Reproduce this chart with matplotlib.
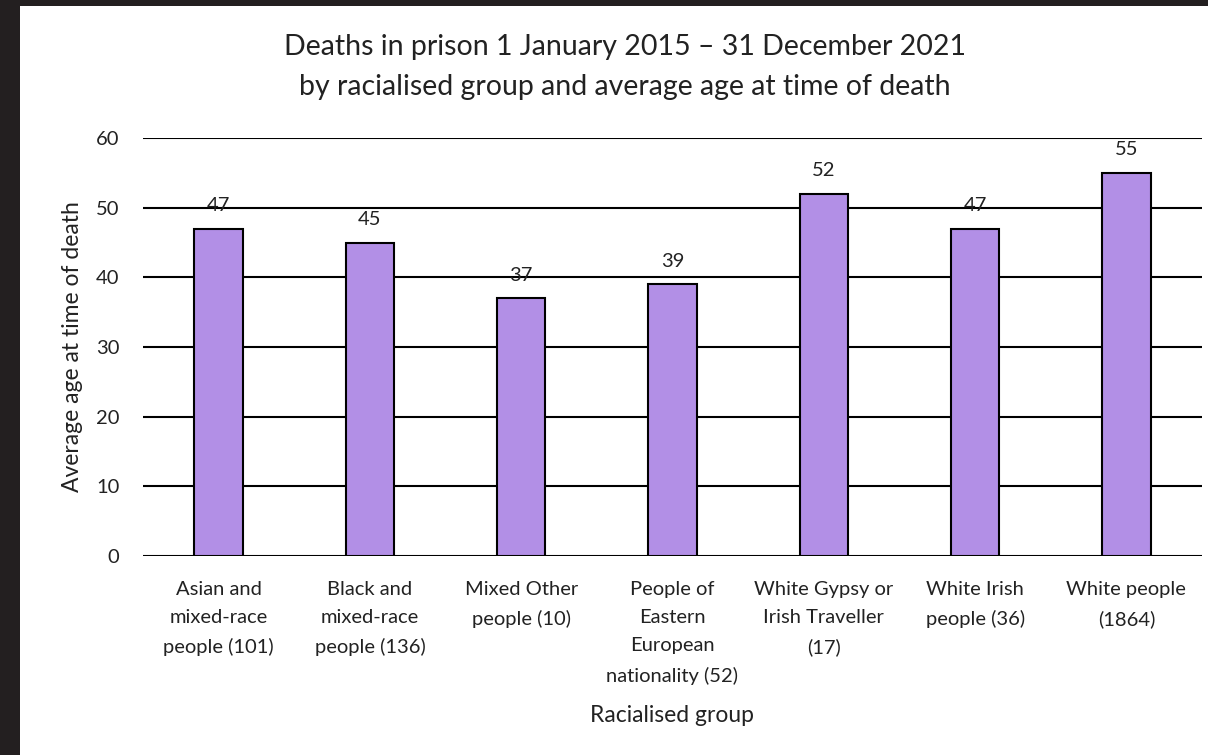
import matplotlib.pyplot as plt
import numpy as np

plt.rcParams['font.family'] = ['Lato', 'DejaVu Sans']

groups = [
    "Asian and\nmixed-race\npeople (101)",
    "Black and\nmixed-race\npeople (136)",
    "Mixed Other\npeople (10)",
    "People of\nEastern\nEuropean\nnationality (52)",
    "White Gypsy or\nIrish Traveller\n(17)",
    "White Irish\npeople (36)",
    "White people\n(1864)",
]
avg_age = [47, 45, 37, 39, 52, 47, 55]
y_ticks = [0, 10, 20, 30, 40, 50, 60]

fig = plt.figure(figsize=(12.08, 7.55), dpi=100)
fig.patch.set_facecolor('#231f20')
# white page inside the dark frame
fig.add_artist(plt.Rectangle((20 / 1208, 0), 1 - 20 / 1208, 1 - 6 / 755,
                             transform=fig.transFigure, facecolor='white',
                             edgecolor='none', zorder=0))

ax = fig.add_axes([143 / 1208, 1 - 556 / 755, 1059 / 1208, 418 / 755])
ax.set_facecolor('white')

x = np.arange(len(groups))
bars = ax.bar(x, avg_age, width=0.32, color='#b28fe6', edgecolor='black',
              linewidth=1.5, zorder=3)

for xi, v in zip(x, avg_age):
    ax.text(xi, v + 3.3, str(v), ha='center', va='center', fontsize=14.5,
            color='#222222', zorder=4)

ax.set_xlim(-0.5, len(groups) - 0.5)
ax.set_ylim(0, 60)
ax.set_yticks(y_ticks)
ax.set_yticklabels([str(t) for t in y_ticks], fontsize=14.5, color='#222222')
ax.set_xticks(x)
ax.set_xticklabels(groups, fontsize=14.5, color='#222222', linespacing=1.8)
ax.tick_params(axis='both', length=0)
ax.tick_params(axis='y', pad=17)
ax.tick_params(axis='x', pad=18)

ax.grid(axis='y', color='black', linewidth=1.5, zorder=0)
for s in ['top', 'right', 'left', 'bottom']:
    ax.spines[s].set_visible(False)

ax.set_ylabel('Average age at time of death', fontsize=16.5, color='#222222',
              labelpad=9)
ax.set_xlabel('Racialised group', fontsize=16.5, color='#222222', labelpad=15)

fig.text(625 / 1208, 1 - 67 / 755,
         'Deaths in prison 1 January 2015 \u2013 31 December 2021\n'
         'by racialised group and average age at time of death',
         ha='center', va='center', fontsize=20.5, color='#222222',
         linespacing=1.65)

fig.savefig('out.png', dpi=100, facecolor=fig.get_facecolor())
